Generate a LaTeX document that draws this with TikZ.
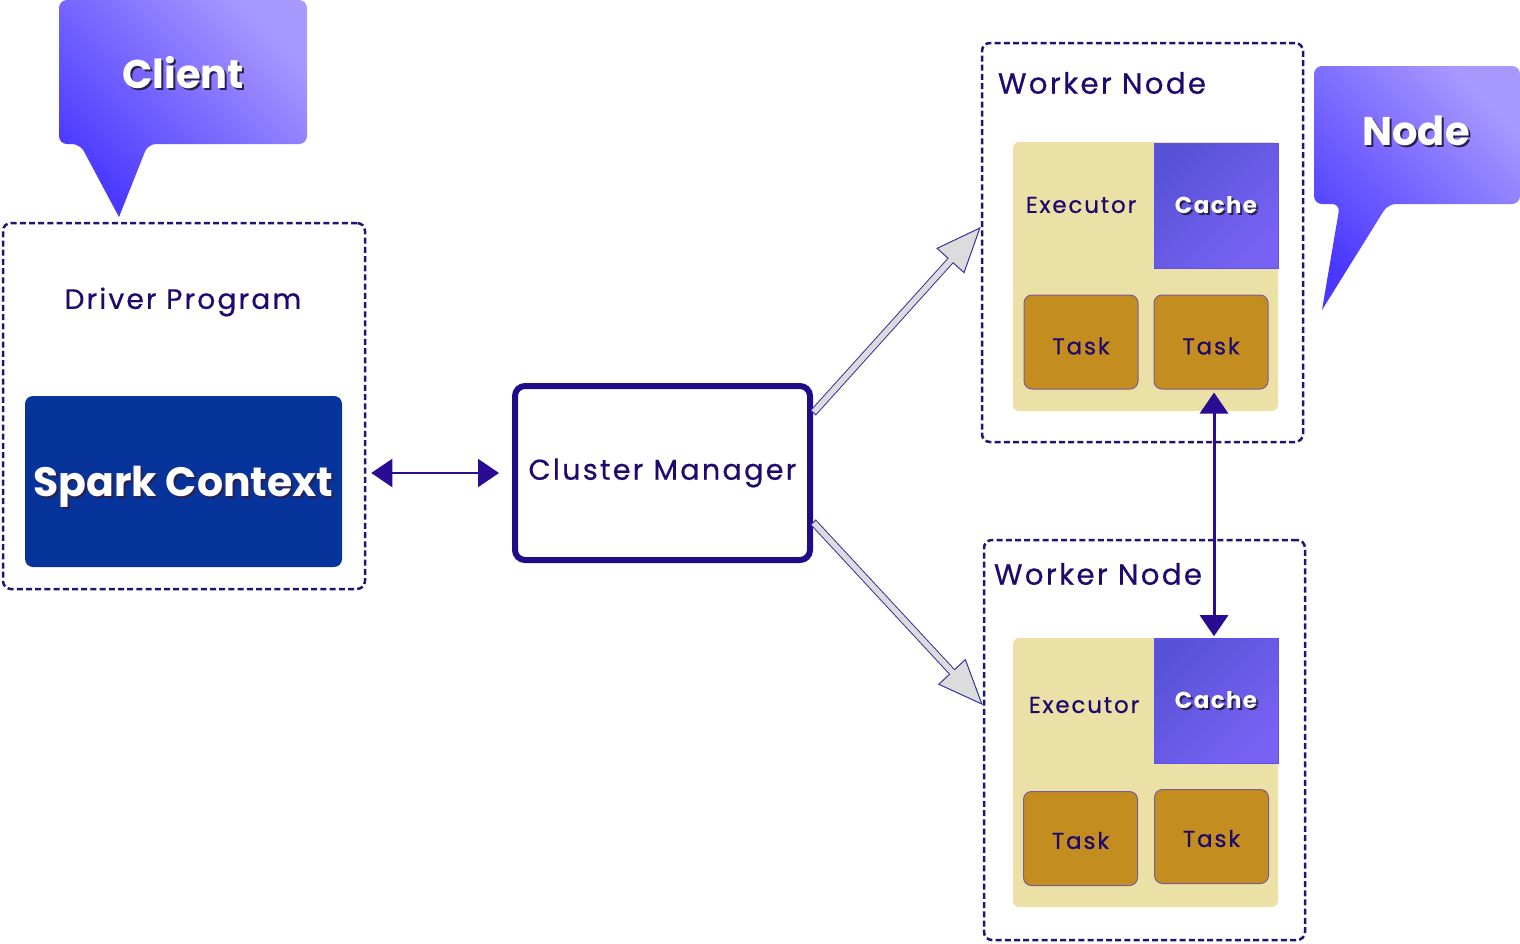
\documentclass[tikz,border=0pt]{standalone}
\usepackage{fontspec}
\setmainfont{Poppins}
\newfontfamily\spacedfont[LetterSpace=8, FakeBold=0.6]{Poppins}
\newfontfamily\cachefont[LetterSpace=6]{Poppins}
\usetikzlibrary{arrows.meta}
\definecolor{dashnavy}{HTML}{1C1670}
\definecolor{txtnavy}{HTML}{1E0A6E}
\definecolor{arrowpurple}{HTML}{2A0C94}
\definecolor{cmborder}{HTML}{200C88}
\definecolor{sparkblue}{HTML}{06349A}
\definecolor{execbg}{HTML}{EBE0A5}
\definecolor{taskfill}{HTML}{C48D1F}
\definecolor{taskline}{HTML}{7B5B9B}
\definecolor{cacheA}{HTML}{5853D6}
\definecolor{cacheB}{HTML}{7862F4}
\definecolor{calloutA}{HTML}{4A38FF}
\definecolor{calloutB}{HTML}{A899FF}
\definecolor{arrowgray}{HTML}{DCDCDC}
\definecolor{arrowline}{HTML}{34349E}
\definecolor{shadowcol}{HTML}{2A2050}
\newcommand{\shadowed}[1]{\makebox[0pt][l]{\kern1pt\raisebox{-1pt}{\textcolor{shadowcol}{#1}}}#1}
\newcommand{\lowered}[2]{\raisebox{-#1}[\height][\depth]{#2}}
\newcommand{\grayarrow}[2]{%
  \draw[arrowline, line width=3.8pt, shorten >=20pt] (#1) -- (#2);
  \draw[arrowline, line width=0.5pt, -{Triangle[length=22.8pt, width=18.75pt, fill=arrowgray]}] (#1) -- (#2);
  \draw[arrowgray, line width=2.8pt, shorten >=21.5pt, shorten <=0.6pt] (#1) -- (#2);}

\begin{document}
\begin{tikzpicture}[x=0.5pt, y=-0.5pt,
    dashbox/.style={draw=dashnavy, line width=1.25pt, dash pattern=on 3pt off 1.6pt, rounded corners=4pt},
    lbl/.style={text=txtnavy, font=\fontsize{14}{16}\selectfont\spacedfont},
    smalllbl/.style={text=txtnavy, font=\fontsize{11.5}{13}\selectfont\spacedfont},
    execbox/.style={fill=execbg, rounded corners=3pt, minimum width=132.5pt, minimum height=134.5pt},
    cachebox/.style={top color=cacheA, bottom color=cacheB, shading angle=45, draw=cacheB!80!blue, line width=0.3pt,
      minimum width=62pt, minimum height=62.5pt, text=white, font=\fontsize{11.5}{13}\selectfont\bfseries\cachefont},
    taskbox/.style={fill=taskfill, draw=taskline, line width=0.5pt, rounded corners=4pt,
      minimum width=57pt, minimum height=47pt, smalllbl},
    dblarrow/.style={arrowpurple, line width=1pt, {Triangle[length=10.5pt,width=14pt]}-{Triangle[length=10.5pt,width=14pt]}},
    callout/.style={bottom color=calloutA, top color=calloutB, shading angle=-45, rounded corners=4pt},
    bigtxt/.style={text=white, font=\fontsize{20}{24}\selectfont\bfseries}]
\useasboundingbox (0,0) rectangle (1520,943);

% callouts
\shade[callout] (59,0) -- (307,0) -- (307,144) -- (148,144) [sharp corners] -- (119,217) [rounded corners=4pt] -- (80,144) -- (59,144) -- cycle;
\node[bigtxt] (client) at (183,74) {\shadowed{Client}};
\shade[callout] (1314,66) -- (1520,66) -- (1520,204) -- (1388,204) [sharp corners] -- (1322,310) [rounded corners=4pt] -- (1340,204) -- (1314,204) -- cycle;
\node[bigtxt] (nodelbl) at (1416,132) {\shadowed{Node}};

% driver
\node[dashbox, minimum width=181pt, minimum height=183pt] (driver) at (184,406) {};
\node[lbl] (driverlbl) at (183,302) {Driver Program};
\node[fill=sparkblue, rounded corners=4pt, minimum width=158.5pt, minimum height=85.5pt,
  text=white, font=\fontsize{20.5}{24}\selectfont\bfseries] (spark) at (183.5,481.5) {\lowered{3pt}{\shadowed{Spark Context}}};

% cluster manager
\node[draw=cmborder, line width=3pt, rounded corners=5pt, minimum width=147.5pt, minimum height=87pt,
  lbl, font=\fontsize{14.3}{16}\selectfont\spacedfont] (cluster) at (662.5,473) {Cluster Manager};
\draw[dblarrow, shorten <=2.5pt, shorten >=6.5pt] (driver.east |- cluster.west) -- (cluster.west);

% worker nodes
\node[dashbox, minimum width=160.5pt, minimum height=199.5pt] (worker1) at (1142.5,242.5) {};
\node[lbl, font=\fontsize{14.6}{16}\selectfont\spacedfont] (wlbl1) at (1102,83) {Worker Node};
\node[execbox] (exec1) at (1145.5,276.5) {};
\node[cachebox] (cache1) at (1216,206) {\shadowed{Cache}};
\node[smalllbl] (execlbl1) at (1081,205) {Executor};
\node[taskbox] (task11) at (1081,342) {\lowered{2pt}{Task}};
\node[taskbox] (task12) at (1211,342) {\lowered{2pt}{Task}};

\node[dashbox, minimum width=160.5pt, minimum height=200pt] (worker2) at (1144.5,740) {};
\node[lbl, font=\fontsize{14.6}{16}\selectfont\spacedfont] (wlbl2) at (1098,574) {Worker Node};
\node[execbox] (exec2) at (1145.5,772.5) {};
\node[cachebox] (cache2) at (1216,701) {\shadowed{Cache}};
\node[smalllbl] (execlbl2) at (1084,705) {Executor};
\node[taskbox] (task21) at (1080.5,838.5) {\lowered{1pt}{Task}};
\node[taskbox] (task22) at (1211.5,836.5) {\lowered{1pt}{Task}};

\coordinate (vtop) at ([xshift=1.5pt]task12.south);
\draw[dblarrow, line width=1.5pt, shorten <=1.5pt, shorten >=1pt] (vtop) -- (vtop |- cache2.north);

% cluster manager to workers
\coordinate (g1s) at ([yshift=30pt]cluster.east);
\coordinate (g1e) at ([yshift=7.75pt]worker1.west);
\coordinate (g2s) at ([yshift=-24.5pt]cluster.east);
\coordinate (g2e) at ([yshift=17.5pt]worker2.west);
\grayarrow{g1s}{g1e}
\grayarrow{g2s}{g2e}
\end{tikzpicture}
\end{document}
